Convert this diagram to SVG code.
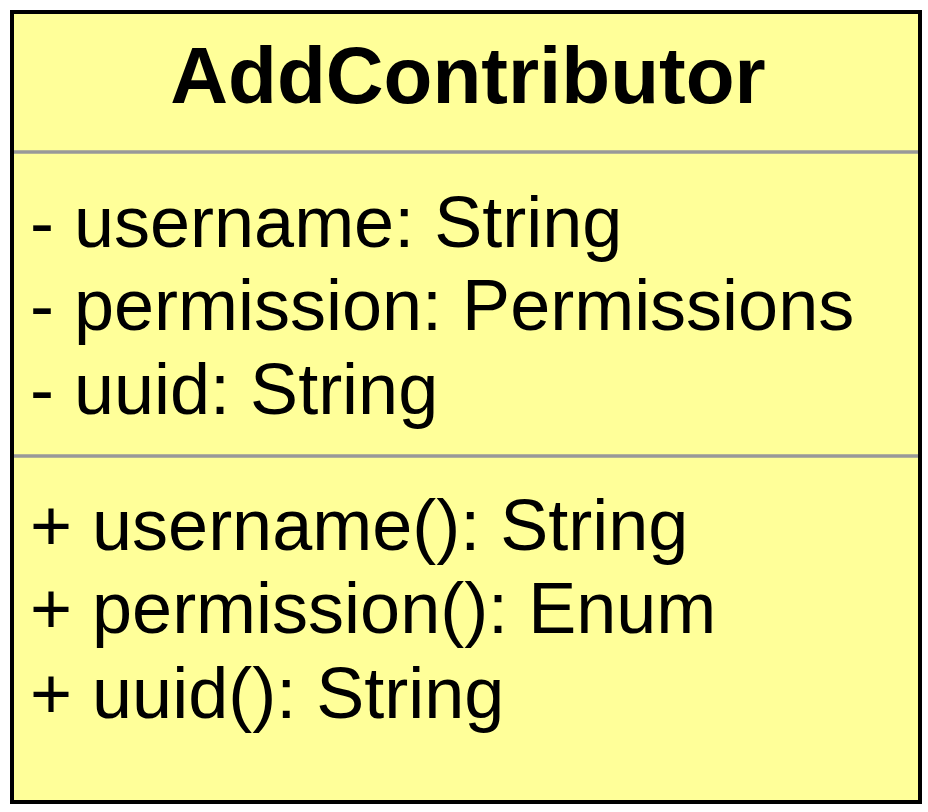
<svg xmlns="http://www.w3.org/2000/svg" width="928" height="812" viewBox="0 0 928 812">
<style>
.box{fill:#ffff99;stroke:#000;stroke-width:4}
.sep{stroke:#999;stroke-width:3.5}
.title{font-family:"Liberation Sans",Arial,sans-serif;font-weight:bold;font-size:80px;fill:#000}
.member{font-family:"Liberation Sans",Arial,sans-serif;font-size:72px;fill:#000}
</style>
<rect width="928" height="812" fill="#fff"/>
<g id="AddContributor">
<rect class="box" x="12" y="12" width="908" height="790"/>
<text class="title" x="468" y="103" text-anchor="middle">AddContributor</text>
<line class="sep" x1="14" y1="152" x2="918" y2="152"/>
<text class="member" x="30" y="247">- username: String</text>
<text class="member" x="30" y="330">- permission: Permissions</text>
<text class="member" x="30" y="414">- uuid: String</text>
<line class="sep" x1="14" y1="456" x2="918" y2="456"/>
<text class="member" x="30" y="550">+ username(): String</text>
<text class="member" x="30" y="633">+ permission(): Enum</text>
<text class="member" x="30" y="718">+ uuid(): String</text>
</g>
<g id="connectors"></g>
</svg>
